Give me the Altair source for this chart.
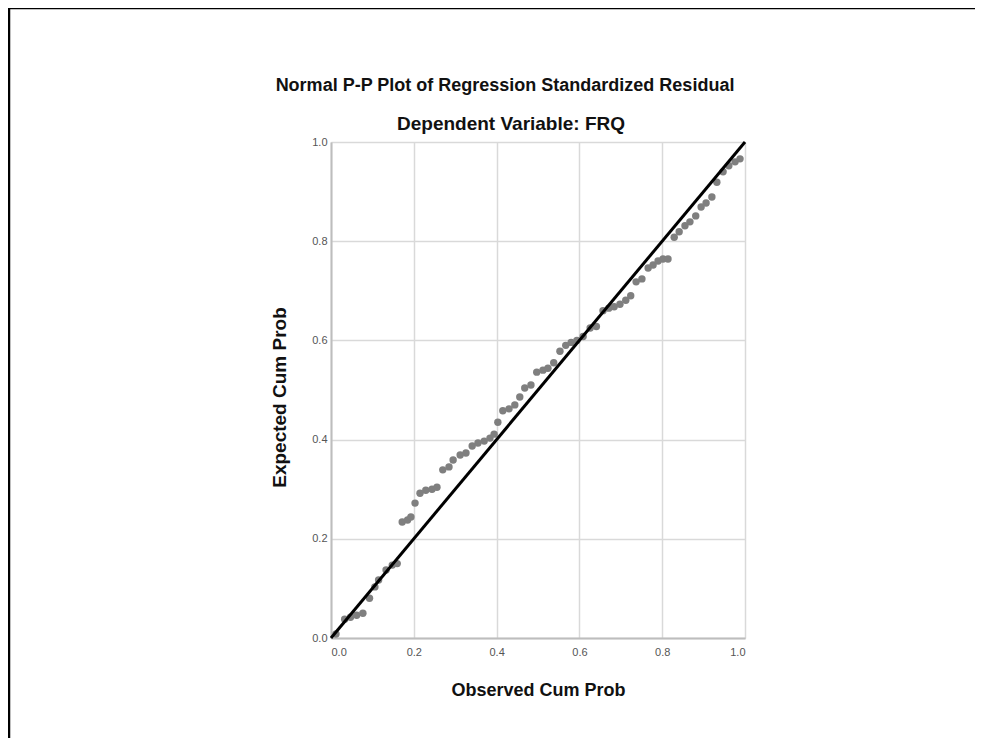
import altair as alt
import pandas as pd

obs_cum = [0.012, 0.033, 0.047, 0.062, 0.077, 0.093, 0.106, 0.115, 0.133, 0.148,
           0.160, 0.172, 0.185, 0.193, 0.203, 0.215, 0.229, 0.244, 0.256, 0.270,
           0.285, 0.295, 0.312, 0.326, 0.341, 0.355, 0.370, 0.384, 0.394, 0.403,
           0.415, 0.430, 0.444, 0.456, 0.468, 0.483, 0.497, 0.512, 0.524, 0.538,
           0.553, 0.567, 0.580, 0.594, 0.609, 0.626, 0.641, 0.657, 0.671, 0.684,
           0.698, 0.712, 0.724, 0.737, 0.751, 0.766, 0.778, 0.790, 0.802, 0.814,
           0.829, 0.841, 0.855, 0.867, 0.881, 0.894, 0.906, 0.920, 0.932, 0.947,
           0.961, 0.976, 0.988]
exp_cum = [0.008, 0.038, 0.042, 0.046, 0.050, 0.080, 0.103, 0.117, 0.137, 0.147,
           0.150, 0.234, 0.238, 0.244, 0.272, 0.292, 0.298, 0.300, 0.304, 0.339,
           0.345, 0.359, 0.369, 0.373, 0.387, 0.393, 0.397, 0.403, 0.411, 0.435,
           0.458, 0.462, 0.470, 0.486, 0.504, 0.510, 0.536, 0.540, 0.544, 0.555,
           0.578, 0.590, 0.596, 0.600, 0.608, 0.625, 0.628, 0.660, 0.665, 0.668,
           0.673, 0.681, 0.690, 0.718, 0.724, 0.746, 0.752, 0.760, 0.764, 0.764,
           0.808, 0.819, 0.831, 0.839, 0.851, 0.869, 0.877, 0.889, 0.919, 0.940,
           0.952, 0.960, 0.966]

line_x = [0.0, 1.0]
line_y = [0.0, 1.0]
ticks = [0.0, 0.2, 0.4, 0.6, 0.8, 1.0]
title_text = "Normal P-P Plot of Regression Standardized Residual"
subtitle_text = "Dependent Variable: FRQ"

pts = pd.DataFrame({"obs": obs_cum, "exp": exp_cum})
ref = pd.DataFrame({"obs": line_x, "exp": line_y})

xs = alt.Scale(domain=[0, 1], nice=False)
ys = alt.Scale(domain=[0, 1], nice=False)

common = dict(
    values=ticks, format=".1f", grid=True, ticks=False,
    gridColor="#d9d9d9", gridWidth=1.5,
    domainColor="#bdbdbd", domainWidth=2,
    labelFont="Liberation Sans", labelFontSize=11, labelColor="#555555",
    titleFont="Liberation Sans", titleFontWeight="bold",
    titleColor="#111111",
)
x_axis = alt.Axis(title="Observed Cum Prob", labelPadding=8, titlePadding=24,
                  titleFontSize=18, **common)
y_axis = alt.Axis(title="Expected Cum Prob", labelPadding=4, titlePadding=22,
                  titleFontSize=19, titleY=255, **common)

points = alt.Chart(pts).mark_circle(size=55, color="#7f7f7f", opacity=1).encode(
    x=alt.X("obs:Q", scale=xs, axis=x_axis),
    y=alt.Y("exp:Q", scale=ys, axis=y_axis),
)

line = alt.Chart(ref).mark_line(color="black", strokeWidth=3).encode(
    x=alt.X("obs:Q", scale=xs),
    y=alt.Y("exp:Q", scale=ys),
)

frame = alt.Chart(pd.DataFrame({"a": [0]})).mark_rect(
    fill=None, stroke="black", strokeWidth=2.5
).encode(
    x=alt.value(-322), x2=alt.value(646),
    y=alt.value(-134), y2=alt.value(700),
)

one = pd.DataFrame({"t": [title_text], "s": [subtitle_text]})
title = alt.Chart(one).mark_text(
    font="Liberation Sans", fontSize=18, fontWeight="bold", color="#111111",
    align="center", baseline="alphabetic"
).encode(text="t:N", x=alt.value(174), y=alt.value(-51))
subtitle = alt.Chart(one).mark_text(
    font="Liberation Sans", fontSize=19, fontWeight="bold", color="#111111",
    align="center", baseline="alphabetic"
).encode(text="s:N", x=alt.value(180), y=alt.value(-12))

chart = alt.layer(frame, points, line, title, subtitle).properties(
    width=414,
    height=496,
    autosize=alt.AutoSizeParams(type="none"),
    padding={"left": 323, "top": 134, "right": 230, "bottom": 100},
).configure_view(
    stroke=None
).configure(background="white")

chart.save("out.html", embed_options={"renderer": "svg", "actions": False})
